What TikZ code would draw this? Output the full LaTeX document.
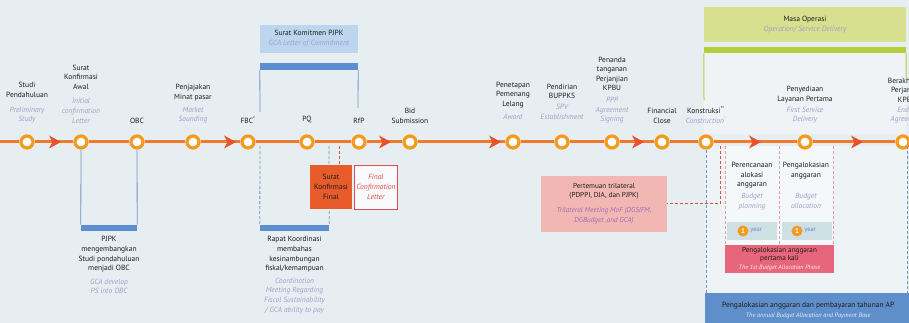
\documentclass[tikz,border=0pt]{standalone}
\usepackage{fontspec}
\setmainfont{PT Sans}
\usetikzlibrary{positioning,calc}
\definecolor{paper}{HTML}{E7EEF1}
\definecolor{tlorange}{HTML}{F07B2C}
\definecolor{ring}{HTML}{F49B1F}
\definecolor{chev}{HTML}{E9512D}
\definecolor{engcol}{HTML}{A79BCB}
\definecolor{ink}{HTML}{1C1C1C}
\definecolor{lightblue}{HTML}{BBD6EE}
\definecolor{barblue}{HTML}{5D8ED0}
\definecolor{linkblue}{HTML}{7393C8}
\definecolor{olivebox}{HTML}{D6E08F}
\definecolor{olivebar}{HTML}{B6CE3B}
\definecolor{finalred}{HTML}{E85C2B}
\definecolor{tripink}{HTML}{F3B7B3}
\definecolor{tripurple}{HTML}{9C6DB6}
\definecolor{dashred}{HTML}{E04B4B}
\definecolor{dashpink}{HTML}{E39CAD}
\definecolor{firstpink}{HTML}{E8667C}
\definecolor{annualblue}{HTML}{5E8FCB}
\definecolor{yearfill}{HTML}{CFE0E4}
\definecolor{opsbg}{HTML}{EEF3F5}
\newcommand{\eng}[2][engcol]{{\color{#1}\itshape #2}}
\tikzset{
 mile/.style={circle,draw=ring,fill=white,line width=3.2pt,minimum size=12pt,inner sep=0pt},
 lbl/.style={align=center,font=\fontsize{7.5}{9.6}\selectfont,text=ink,inner sep=0pt},
 tline/.style={draw=tlorange,line width=3pt},
 link/.style={draw=linkblue,line width=0.8pt},
 dlink/.style={draw=linkblue,line width=0.8pt,dash pattern=on 3pt off 2pt},
 rlink/.style={draw=dashred,line width=1pt,dash pattern=on 3pt off 2pt},
 plink/.style={draw=dashpink,line width=0.7pt,dash pattern=on 3pt off 2pt},
 glink/.style={draw=olivebar,line width=1pt},
 bar/.style={inner sep=0pt,minimum height=6.5pt},
 panel/.style={align=center,inner sep=0pt,text=ink,font=\fontsize{7.5}{10}\selectfont},
 yrbox/.style={fill=yearfill,minimum width=50pt,minimum height=18pt,inner sep=0pt},
 yeardot/.style={circle,fill=ring,text=white,inner sep=0pt,minimum size=11pt,font=\fontsize{7}{7}\selectfont\bfseries}
}
\begin{document}
\begin{tikzpicture}[x=1pt,y=-1pt,node distance=11pt]
\clip (0,0) rectangle (909,323);
\fill[paper] (0,0) rectangle (909,323);
\fill[opsbg] (706,146) rectangle (907,293);
\fill[white,opacity=.45] (725,146) rectangle (833,245);
\fill[white,opacity=.35] (704,53) rectangle (906,134);

\node[panel,fill=lightblue,minimum width=98pt,minimum height=28pt] (komit) at (309,39)
  {Surat Komitmen PJPK\\\eng{GCA Letter of Commitment}};
\node[bar,fill=barblue,minimum width=98pt] (kbar) at (309,66.5) {};
\node[panel,fill=olivebox,minimum width=202pt,minimum height=35pt] (ops) at (805,24.5)
  {Masa Operasi\\\eng{Operation/ Service Delivery}};
\node[bar,fill=olivebar,minimum width=202pt] (obar) at (805,50) {};
\coordinate (k-l) at (260,112);
\coordinate (k-r) at (358,108);
\coordinate (o-l) at (704,100);
\coordinate (o-r) at (906,77);
\draw[link] (kbar.south west) -- (k-l);
\draw[link] (kbar.south east) -- (k-r);
\draw[glink] (obar.south west) -- (o-l);
\draw[glink] (obar.south east) -- (o-r);

\node[mile] (m1) at (27,142) {};
\node[mile] (m2) at (81,142) {};
\node[mile] (m3) at (137,142) {};
\node[mile] (m4) at (193,142) {};
\node[mile] (m5) at (248,142) {};
\node[mile] (m6) at (307,142) {};
\node[mile] (m7) at (359,142) {};
\node[mile] (m8) at (410,142) {};
\node[mile] (m9) at (513,142) {};
\node[mile] (m10) at (562,142) {};
\node[mile] (m11) at (612,142) {};
\node[mile] (m12) at (662,142) {};
\node[mile] (m13) at (706,142) {};
\node[mile] (m14) at (805,142) {};
\node[mile] (m15) at (903,142) {};
\coordinate (tl-s) at (0,142);
\coordinate (tl-e) at (909,142);
\draw[tline] (tl-s) -- (m1) -- (m2) -- (m3) -- (m4) -- (m5) -- (m6) -- (m7) -- (m8)
  -- (m9) -- (m10) -- (m11) -- (m12) -- (m13) -- (m14) -- (m15) -- (tl-e);
\foreach \cx in {55,230,385,495,638,755,857}
  \fill[chev] (\cx-6,135.5) -- (\cx+6,142) -- (\cx-6,148.5) -- (\cx-2.5,142) -- cycle;

\node[lbl,above=of m1] (l1) {Studi\\Pendahuluan\\[5pt]\eng{Preliminary}\\\eng{Study}};
\node[lbl,above=of m2] (l2) {Surat\\Konfirmasi\\Awal\\[5pt]\eng{Initial}\\\eng{confirmation}\\\eng{Letter}};
\node[lbl,above=of m3] (l3) {OBC};
\node[lbl,above=of m4] (l4) {Penjajakan\\Minat pasar\\[3pt]\eng{Market}\\\eng{Sounding}};
\node[lbl,above=of m5] (l5) {FBC\textsuperscript{*}};
\node[lbl,above=of m6] (l6) {PQ};
\node[lbl,above=of m7] (l7) {RfP};
\node[lbl,above=of m8] (l8) {Bid\\Submission};
\node[lbl,above=15pt of m9] (l9) {Penetapan\\Pemenang\\Lelang\\[3pt]\eng{Award}};
\node[lbl,above=15pt of m10] (l10) {Pendirian\\BUPPKS\\[1pt]\eng{SPV}\\\eng{Establishment}};
\node[lbl,above=of m11] (l11) {Penanda\\tanganan\\Perjanjian\\KPBU\\[2pt]\eng{PPP}\\\eng{Agreement}\\\eng{Signing}};
\node[lbl,above=of m12] (l12) {Financial\\Close};
\node[lbl,above=of m13] (l13) {Konstruksi\textsuperscript{**}\\\eng{Construction\textsuperscript{*}}};
\node[lbl,above=of m14] (l14) {Penyediaan\\Layanan Pertama\\[1pt]\eng{First Service}\\\eng{Delivery}};
\node[lbl,above=of m15,xshift=4pt] (l15) {Berakhirnya\\Perjanjian\\KPBU\\\eng{End of}\\\eng{Agreement}};

\node[bar,fill=barblue,minimum width=56pt] (pbar) at (109,228) {};
\node[lbl,below=5pt of pbar] (pjpk) {PJPK\\mengembangkan\\Studi pondahuluan\\menjadi OBC\\[4pt]\eng{GCA develop}\\\eng{PS into OBC}};
\draw[link] (m2) -- (pbar.north west);
\draw[link] (m3) -- (pbar.north east);

\node[bar,fill=barblue,minimum width=69pt] (rbar) at (294.5,228) {};
\node[lbl,below=5pt of rbar] (rapat) {Rapat Koordinasi\\membahas\\kesinambungan\\fiskal/kemampuan\\[3pt]\eng{Coordination}\\\eng{Meeting Regarding}\\\eng{Fiscal Sustainability}\\\eng{/ GCA ability to pay}};
\coordinate (r-l) at (260,146);
\coordinate (r-r) at (329,146);
\draw[dlink] (r-l) -- (rbar.north west);
\draw[dlink] (r-r) -- (rbar.north east);

\node[panel,fill=finalred,minimum width=42pt,minimum height=44pt] (fin) at (331,187) {Surat\\Konfirmasi\\Final};
\node[panel,draw=dashred,fill=white!70!paper,minimum width=43pt,minimum height=44pt,right=2pt of fin] (finl)
  {\eng[dashred]{Final}\\\eng[dashred]{Confirmation}\\\eng[dashred]{Letter}};
\coordinate (f-c) at (339,146);
\draw[rlink] (f-c) -- (f-c |- fin.north);

\node[panel,fill=tripink,minimum width=126pt,minimum height=56pt,font=\fontsize{7.2}{9.6}\selectfont] (tri) at (604,203.5)
  {Pertemuan trilateral\\(PDPPI, DJA, dan PJPK)\\[5pt]\eng[tripurple]{Trilateral Meeting MoF (DGSIFM,}\\\eng[tripurple]{DGBudget ,and GCA)}};
\coordinate (t-c) at (720,146);
\draw[rlink] (t-c) |- (tri.east);

\node[panel,fill=annualblue,minimum width=206pt,minimum height=34pt,anchor=north west] (ann) at (705,293)
  {Pengalokasian anggaran dan pembayaran tahunan AP\\{\fontsize{6.3}{8}\selectfont\eng[white!85!annualblue]{The annual Budget Allocation and Payment Base}}};
\node[panel,fill=firstpink,minimum width=109pt,minimum height=28pt,font=\fontsize{7.2}{8.6}\selectfont] (first) at (779.5,259)
  {Pengalokasian anggaran\\pertama kali\\{\fontsize{6.2}{7}\selectfont\eng[white!85!firstpink]{The 1st Budget Allocation Phase}}};
\coordinate (op-r) at (907,146);
\draw[dlink] (m13) -- (m13 |- ann.north);
\draw[dlink] (op-r) -- (op-r |- ann.north);
\coordinate (c1) at (725,146);
\coordinate (c2) at (779,146);
\coordinate (c3) at (833,146);
\draw[plink] (c1) -- (c1 |- first.north);
\draw[plink] (c2) -- (c2 |- first.north);
\draw[plink] (c3) -- (c3 |- first.north);

\node[lbl,anchor=north] (plan) at (752,162) {Perencanaan\\alokasi\\anggaran};
\node[lbl,anchor=north] (alloc) at (806,162) {Pengalokasian\\anggaran};
\node[lbl,anchor=north] (plan-en) at (752,193) {\eng{Budget}\\\eng{planning}};
\node[lbl,anchor=north] (alloc-en) at (806,193) {\eng{Budget}\\\eng{allocation}};
\node[yrbox] (yr1) at (752,231) {};
\node[yrbox] (yr2) at (807,231) {};
\node[yeardot] (yd1) at (743,231) {1};
\node[yeardot] (yd2) at (797,231) {1};
\node[lbl,text=barblue,font=\fontsize{6.5}{7}\selectfont,right=1.5pt of yd1] (yt1) {year};
\node[lbl,text=barblue,font=\fontsize{6.5}{7}\selectfont,right=1.5pt of yd2] (yt2) {year};
\end{tikzpicture}
\end{document}
